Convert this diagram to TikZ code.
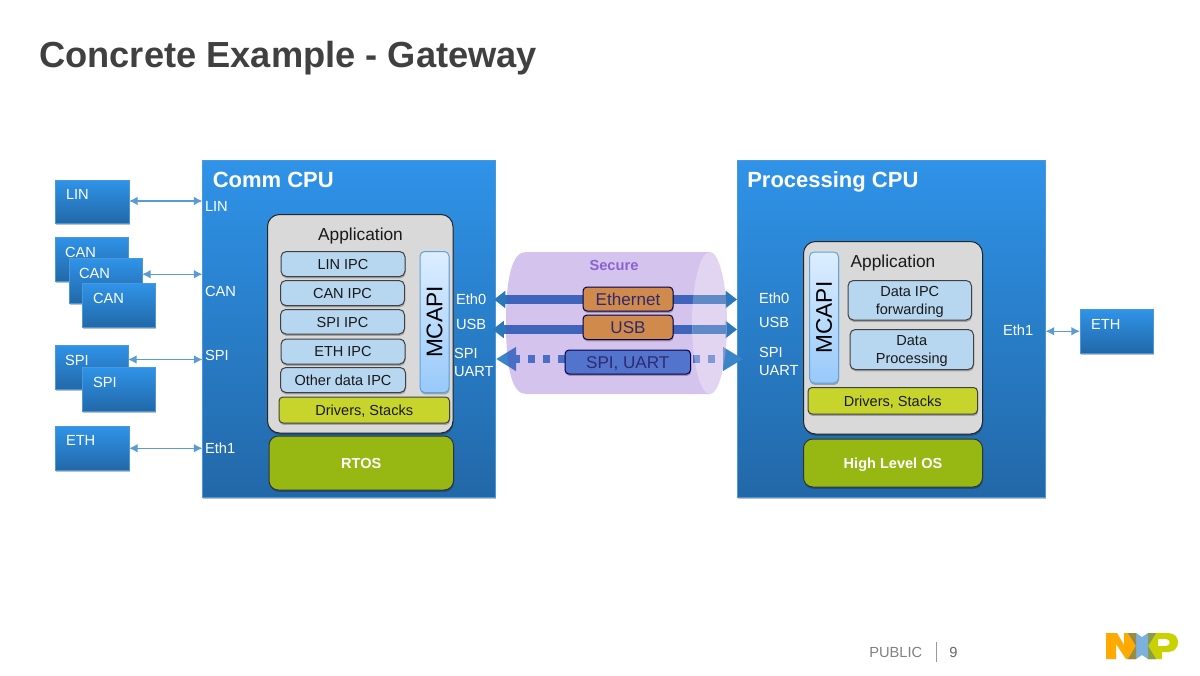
\documentclass[tikz,border=0pt]{standalone}
\usepackage{fontspec}
\setmainfont{Liberation Sans}
\usetikzlibrary{shadows,arrows.meta}
\definecolor{cpuT}{HTML}{2F93E8}
\definecolor{cpuB}{HTML}{2268A8}
\definecolor{cpuL}{HTML}{4A97DC}
\definecolor{grayBox}{HTML}{D9D9D9}
\definecolor{ipc}{HTML}{B7D6EF}
\definecolor{mcT}{HTML}{DDEEFF}
\definecolor{mcB}{HTML}{98C9FA}
\definecolor{mcL}{HTML}{5BA3E0}
\definecolor{drv}{HTML}{C7D42B}
\definecolor{os}{HTML}{97B713}
\definecolor{titleC}{HTML}{404040}
\definecolor{wire}{HTML}{5B9BD5}
\definecolor{bandC}{HTML}{2A77B9}
\definecolor{dotC}{HTML}{3A85C8}
\definecolor{cyl}{HTML}{7239C0}
\definecolor{sec}{HTML}{8A63D2}
\definecolor{linkO}{HTML}{D08B4C}
\definecolor{linkB}{HTML}{5374CC}
\definecolor{linkT}{HTML}{2F2A70}
\definecolor{nxpO}{HTML}{FFAA00}
\definecolor{nxpB}{HTML}{7BB1DB}
\definecolor{nxpG}{HTML}{C9D200}
\definecolor{nxpA}{HTML}{9A8B3E}
\definecolor{nxpC}{HTML}{8A9B4C}
\newcommand{\fs}[1]{\fontsize{#1}{#1}\selectfont}
\newcommand{\bx}[7]{\node[#6,minimum width={(#4-#2)*0.75pt},minimum height={(#5-#3)*0.75pt},inner sep=0pt,outer sep=0pt,align=center] (#1) at ({(#2+#4)/2},{(#3+#5)/2}) {#7};}
\tikzset{
  x=0.75pt,y=-0.75pt,
  shd/.style={drop shadow={shadow xshift=0.4pt,shadow yshift=-1.4pt,opacity=0.25,fill=black}},
  cpu/.style={draw=cpuL,line width=0.75pt,top color=cpuT,bottom color=cpuB,shd},
  grayb/.style={draw=black!85,line width=0.75pt,fill=grayBox,rounded corners=9pt,shd,text=black},
  ipcb/.style={draw=black!75,line width=0.75pt,fill=ipc,rounded corners=4pt,shd,text=black!90,font=\fs{10.9},text height=7.9pt,text depth=0pt},
  ipctwo/.style={ipcb,text height=,text depth=0pt},
  mcapi/.style={draw=mcL,line width=0.75pt,top color=mcT,bottom color=mcB,rounded corners=3.5pt,shd},
  drvb/.style={draw=black!75,line width=0.75pt,fill=drv,rounded corners=3pt,shd,text=black!90,font=\fs{10.9},text height=7.9pt,text depth=0pt},
  osb/.style={draw=black!80,line width=0.75pt,fill=os,rounded corners=7pt,shd,text=white,font=\bfseries\fs{10.9},text height=7.9pt,text depth=0pt},
  linkb/.style={draw=black!70!blue,line width=0.75pt,rounded corners=3pt,shd,text=linkT,font=\fs{12.8},text height=9.2pt,text depth=0pt},
  lab/.style={anchor=west,inner sep=0pt,outer sep=0pt,text=white,font=\fs{11},align=left,text height=7.9pt,text depth=0pt},
  head/.style={anchor=west,inner sep=0pt,text=white,font=\bfseries\fs{16.5},text height=11.9pt,text depth=0pt},
  apptext/.style={inner sep=0pt,text=black!90,font=\fs{13},text height=9.4pt,text depth=0pt},
  wirearrow/.style={draw=wire,line width=1pt,{Latex[length=6.5pt,width=6.5pt]}-{Latex[length=6.5pt,width=6.5pt]}},
  band/.style={draw=bandC,line width=7pt,{Triangle[length=8.5pt,width=12.5pt]}-{Triangle[length=8.5pt,width=12.5pt]}},
  dotband/.style={draw=dotC,line width=5.4pt,dash pattern=on 5.4pt off 5.85pt,dash phase=1.5pt,{Triangle[length=15pt,width=17pt]}-{Triangle[length=15pt,width=17pt]}},
}
\begin{document}
\begin{tikzpicture}
\useasboundingbox (0,0) rectangle (1200,675);
% title
\node[anchor=west,inner sep=0pt,text=titleC,font=\bfseries\fs{27.2},text height=19.5pt,text depth=0pt] (title) at (39,54.5) {Concrete Example - Gateway};
% CPUs
\bx{comm}{202.5}{160.5}{495.5}{497}{cpu}{}
\bx{proc}{737.5}{160.5}{1045.5}{497}{cpu}{}
\node[head] (commT) at (212.5,180) {Comm CPU};
\node[head] (procT) at (747,180) {Processing CPU};
% peripherals
\bx{lin}{55.5}{180}{129}{223}{cpu}{}
\bx{canA}{55}{237}{128}{281}{cpu}{}
\bx{canB}{69}{258.5}{142}{303}{cpu}{}
\bx{canC}{82.5}{283.5}{155}{327}{cpu}{}
\bx{spiA}{55}{345}{128}{389}{cpu}{}
\bx{spiB}{82.5}{367.5}{155}{411}{cpu}{}
\bx{ethA}{55.5}{426.5}{129}{470}{cpu}{}
\bx{ethB}{1080}{309.5}{1153}{353}{cpu}{}
\node[lab] (linT) at (66,194.5) {LIN};
\node[lab] (canAT) at (65,252) {CAN};
\node[lab] (canBT) at (79,273.5) {CAN};
\node[lab] (canCT) at (93,298) {CAN};
\node[lab] (spiAT) at (65,360) {SPI};
\node[lab] (spiBT) at (93,382) {SPI};
\node[lab] (ethAT) at (66,440.5) {ETH};
\node[lab] (ethBT) at (1091,324.5) {ETH};
% wires
\draw[wirearrow] ([yshift=0.4pt]lin.east) -- ([yshift=0.4pt]lin.east -| comm.west);
\draw[wirearrow] ([yshift=4.9pt]canB.east) -- ([yshift=4.9pt]canB.east -| comm.west);
\draw[wirearrow] ([yshift=6pt]spiA.east |- spiB.north) -- ([yshift=6pt]spiB.north -| comm.west);
\draw[wirearrow] (ethA.east) -- (ethA.east -| comm.west);
\draw[wirearrow] (ethB.west -| proc.east) -- (ethB.west);
% CPU port labels
\node[lab] (cLin) at (205,206.5) {LIN};
\node[lab] (cCan) at (205,291.5) {CAN};
\node[lab] (cSpi) at (205,355) {SPI};
\node[lab] (cEth) at (205,448) {Eth1};
\node[lab] (pEth1) at (1003,330.5) {Eth1};
\node[lab] (lEth) at (456,299.5) {Eth0};
\node[lab] (lUsb) at (456,324) {USB};
\node[lab] (lSpi) at (454,353) {SPI};
\node[lab] (lUart) at (454,371.5) {UART};
\node[lab] (rEth) at (759,298.5) {Eth0};
\node[lab] (rUsb) at (759,322.5) {USB};
\node[lab] (rSpi) at (759,352) {SPI};
\node[lab] (rUart) at (759,370.5) {UART};
% comm stack
\bx{cApp}{267.5}{214.5}{453}{433}{grayb}{}
\node[apptext] (cAppT) at (360.5,234.5) {Application};
\bx{cLinI}{281}{251.5}{405}{276.5}{ipcb}{LIN IPC}
\bx{cCanI}{280.5}{280.5}{404.5}{305.5}{ipcb}{CAN IPC}
\bx{cSpiI}{280.5}{309.5}{404.5}{334}{ipcb}{SPI IPC}
\bx{cEthI}{281}{339}{405}{364}{ipcb}{ETH IPC}
\bx{cOth}{280.5}{367.5}{405.5}{392.5}{ipcb}{Other data IPC}
\bx{cMc}{420}{251.5}{449}{392.5}{mcapi}{\rotatebox{90}{\fs{17}MCAPI}}
\bx{cDrv}{279}{397}{449.5}{423}{drvb}{Drivers, Stacks}
\bx{cOs}{269}{436}{453.5}{490}{osb}{RTOS}
% processing stack
\bx{pApp}{803.5}{241.5}{982.5}{434}{grayb}{}
\node[apptext] (pAppT) at (893,261) {Application};
\bx{pFwd}{848}{280.5}{971.5}{320}{ipctwo}{Data IPC\\[3pt]forwarding}
\bx{pDat}{850}{329.5}{973.5}{369.5}{ipctwo}{Data\\[3pt]Processing}
\bx{pMc}{809.5}{252}{838.5}{383}{mcapi}{\rotatebox{90}{\fs{17}MCAPI}}
\bx{pDrv}{808}{387.5}{977.5}{414}{drvb}{Drivers, Stacks}
\bx{pOs}{803.5}{439}{982.5}{487}{osb}{High Level OS}
% thick links
\coordinate (a1) at (494,299.5);
\coordinate (b1) at (737,299.5);
\coordinate (a2) at (492.5,329.5);
\coordinate (b2) at (737,329.5);
\coordinate (a3) at (496,359);
\coordinate (b3) at (743,359);
\draw[band] (a1) -- (b1);
\draw[band] (a2) -- (b2);
\draw[dotband] (a3) -- (b3);
% secure tunnel
\fill[cyl,opacity=0.3] (526,252) -- (710,252)
  .. controls (719,252) and (727,284) .. (727,323)
  .. controls (727,362) and (719,394) .. (710,394)
  -- (526,394) .. controls (513,394) and (506,372) .. (506,323)
  .. controls (506,274) and (513,252) .. (526,252) -- cycle;
\fill[white,opacity=0.3] (692,323)
  .. controls (692,284) and (700,252) .. (710,252)
  .. controls (719,252) and (727,284) .. (727,323)
  .. controls (727,362) and (719,394) .. (710,394)
  .. controls (700,394) and (692,362) .. (692,323) -- cycle;
\draw[draw=bandC,line width=7pt,opacity=0.3] (693,299.5) -- (726,299.5);
\draw[draw=bandC,line width=7pt,opacity=0.3] (693,329.5) -- (726,329.5);
\node[inner sep=0pt,text=sec,font=\bfseries\fs{11}] (secure) at (614,265.5) {Secure};
\bx{lEthn}{583}{287}{673}{311}{linkb,fill=linkO}{Ethernet}
\bx{lUsbn}{583}{315}{673}{339.5}{linkb,fill=linkO}{USB}
\bx{lSpin}{565}{350}{690.5}{374}{linkb,fill=linkB}{SPI, UART}
% footer
\node[anchor=west,inner sep=0pt,text=black!50,font=\fs{11}] (pub) at (869,652.5) {PUBLIC};
\node[anchor=west,inner sep=0pt,text=black!60,font=\fs{11}] (pgn) at (949,652.5) {9};
\draw[black!40,line width=0.6pt] (936,642) -- (936,662);
% logo
\fill[nxpO] (1106,633) -- (1117,633) -- (1124,645) -- (1124,633) -- (1136,633) -- (1136,659) -- (1126,659) -- (1116,644) -- (1116,659) -- (1106,659) -- cycle;
\fill[nxpG,even odd rule] (1148,633) -- (1168,633) .. controls (1175,633) and (1178,638) .. (1178,642) .. controls (1178,647) and (1175,652) .. (1168,652) -- (1162,652) -- (1162,659) -- (1148,659) -- cycle (1158,639) -- (1158,646) -- (1166,646) .. controls (1171,646) and (1171,639) .. (1166,639) -- cycle;
\fill[nxpB] (1128,633) -- (1136,633) -- (1142,637) -- (1148,633) -- (1156,633) -- (1148,646) -- (1156,659) -- (1148,659) -- (1142,655) -- (1136,659) -- (1128,659) -- (1136,646) -- cycle;
\fill[nxpA] (1128,633) -- (1136,633) -- (1136,646) -- cycle;
\fill[nxpA] (1128,659) -- (1136,659) -- (1136,646) -- cycle;
\fill[nxpC] (1148,633) -- (1156,633) -- (1148,646) -- cycle;
\fill[nxpC] (1148,659) -- (1156,659) -- (1148,646) -- cycle;
\end{tikzpicture}
\end{document}
